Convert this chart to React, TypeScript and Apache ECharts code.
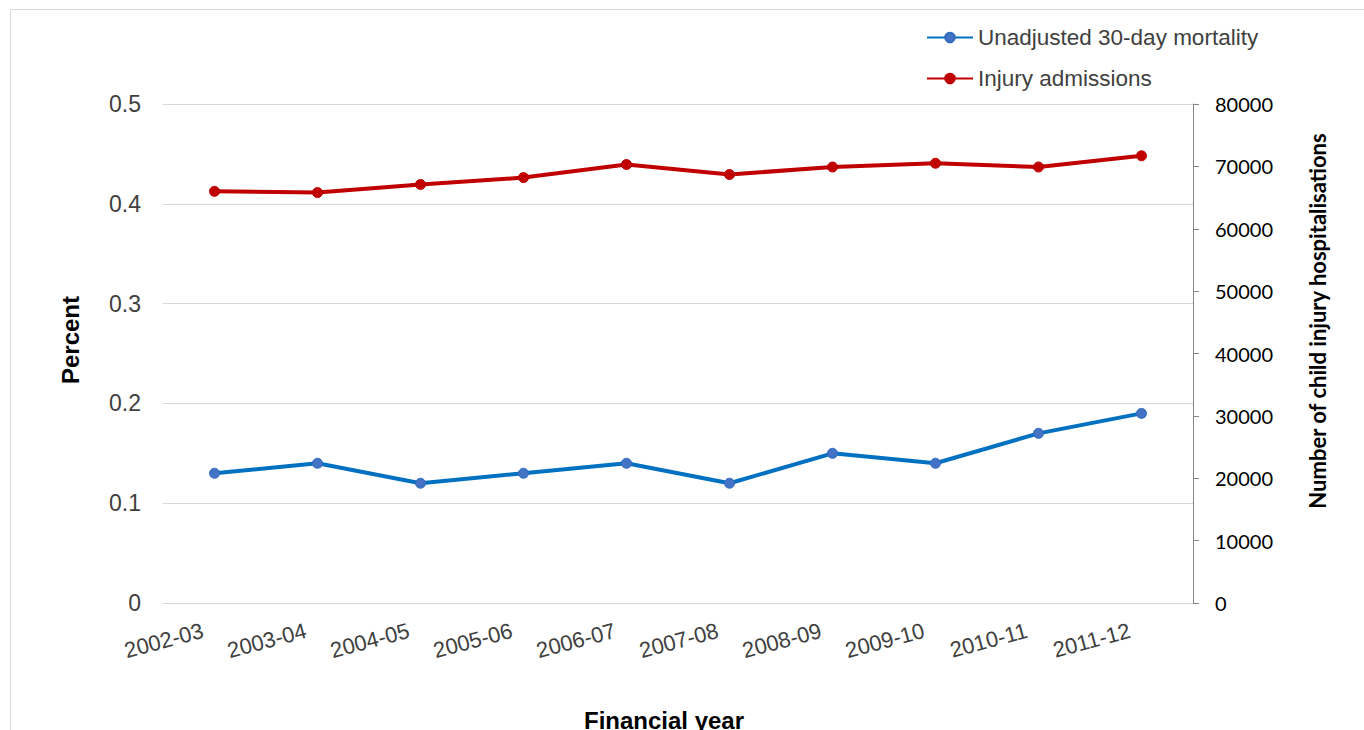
import React, { useEffect, useRef } from "react";
import * as echarts from "echarts";

const categories = ["2002-03", "2003-04", "2004-05", "2005-06", "2006-07", "2007-08", "2008-09", "2009-10", "2010-11", "2011-12"];
const mortality = [0.13, 0.14, 0.12, 0.13, 0.14, 0.12, 0.15, 0.14, 0.17, 0.19];
const admissions = [66000, 65800, 67100, 68200, 70300, 68700, 69900, 70500, 69900, 71700];
const seriesNames = ["Unadjusted 30-day mortality", "Injury admissions"];

export default function App() {
  const ref = useRef<HTMLDivElement>(null);
  useEffect(() => {
    if (!ref.current) return;
    const chart = echarts.init(ref.current, undefined, { renderer: "svg" });
    chart.setOption({
      animation: false,
      backgroundColor: "#ffffff",
      graphic: [
        {
          type: "rect",
          shape: { x: 10.5, y: 9.5, width: 1400, height: 800 },
          style: { fill: "none", stroke: "#D9D9D9", lineWidth: 1 },
          silent: true,
          z: -10,
        },
        {
          type: "text",
          x: 1317,
          y: 321,
          rotation: Math.PI / 2,
          style: {
            text: "Number of child injury hospitalisations",
            font: "bold 22px Lato",
            fill: "#000000",
            align: "center",
            verticalAlign: "middle",
          },
        },
        {
          type: "text",
          x: 664,
          y: 720,
          style: {
            text: "Financial year",
            font: "bold 24px 'Liberation Sans', Arial",
            fill: "#000000",
            align: "center",
            verticalAlign: "middle",
          },
        },
        {
          type: "text",
          x: 70,
          y: 340,
          rotation: Math.PI / 2,
          style: {
            text: "Percent",
            font: "bold 24px 'Liberation Sans', Arial",
            fill: "#000000",
            align: "center",
            verticalAlign: "middle",
          },
        },
      ],
      legend: {
        orient: "vertical",
        left: 926,
        top: 26,
        padding: 0,
        itemWidth: 46,
        itemHeight: 12,
        itemGap: 18,
        textStyle: { fontSize: 22.5, color: "#404040", fontFamily: "'Liberation Sans', Arial" },
        data: seriesNames,
      },
      grid: { left: 163, right: 171, top: 104, bottom: 127 },
      xAxis: {
        type: "category",
        data: categories,
        boundaryGap: true,
        axisLine: { show: true, lineStyle: { color: "#D9D9D9", width: 1 } },
        axisTick: { show: false },
        axisLabel: {
          rotate: 15,
          interval: 0,
          margin: 24,
          padding: [0, 12, 0, 0],
          fontSize: 22,
          color: "#404040",
          fontFamily: "'Liberation Sans', Arial",
        },
      },
      yAxis: [
        {
          type: "value",
          min: 0,
          max: 0.5,
          interval: 0.1,
          axisLine: { show: false },
          axisTick: { show: false },
          axisLabel: {
            margin: 22,
            fontSize: 23,
            color: "#404040",
            fontFamily: "'Liberation Sans', Arial",
          },
          splitLine: { show: true, lineStyle: { color: "#D9D9D9", width: 1 } },
        },
        {
          type: "value",
          min: 0,
          max: 80000,
          interval: 10000,
          position: "right",
          axisLine: { show: true, lineStyle: { color: "#868686", width: 1 } },
          axisTick: { show: true, length: 6, lineStyle: { color: "#868686" } },
          axisLabel: {
            margin: 22,
            fontSize: 20,
            color: "#000000",
            fontFamily: "Lato",
            formatter: (v: number) => String(v),
          },
          splitLine: { show: false },
        },
      ],
      series: [
        {
          name: seriesNames[0],
          type: "line",
          yAxisIndex: 0,
          data: mortality,
          symbol: "circle",
          symbolSize: 10,
          lineStyle: { color: "#0070C0", width: 4 },
          itemStyle: { color: "#4472C4", borderColor: "#2E6BC0", borderWidth: 1 },
        },
        {
          name: seriesNames[1],
          type: "line",
          yAxisIndex: 1,
          data: admissions,
          symbol: "circle",
          symbolSize: 10,
          lineStyle: { color: "#C00000", width: 4 },
          itemStyle: { color: "#C00000", borderColor: "#C00000", borderWidth: 1 },
        },
      ],
    });
    return () => chart.dispose();
  }, []);
  return (
    <div
      ref={ref}
      style={{ position: "fixed", left: 0, top: 0, width: 1364, height: 730 }}
    />
  );
}
